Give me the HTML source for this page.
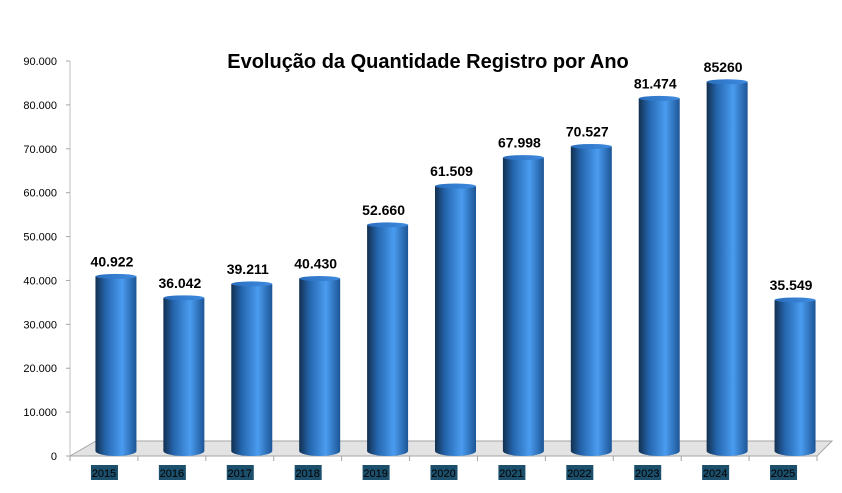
<!DOCTYPE html>
<html><head><meta charset="utf-8"><style>
body{margin:0;background:#fff;}
svg{display:block;font-family:"Liberation Sans",sans-serif;}
</style></head><body>
<svg id="c" width="842" height="493" viewBox="0 0 842 493">
<defs>
<linearGradient id="cyl" x1="0" x2="1" y1="0" y2="0">
<stop offset="0" stop-color="#13304f"/>
<stop offset="0.25" stop-color="#2465ad"/>
<stop offset="0.65" stop-color="#4a9cf0"/>
<stop offset="1" stop-color="#1d5596"/>
</linearGradient>
<linearGradient id="cyltop" x1="0" x2="1">
<stop offset="0" stop-color="#2a6fbf"/>
<stop offset="1" stop-color="#3f8be0"/>
</linearGradient>
</defs>
<text x="428" y="68" text-anchor="middle" font-size="20" font-weight="bold" fill="#000">Evolução da Quantidade Registro por Ano</text>
<g id="axes"></g>
<g id="bars"></g>
</svg>
<script>
const categories=["2015","2016","2017","2018","2019","2020","2021","2022","2023","2024","2025"];
const values=[40922,36042,39211,40430,52660,61509,67998,70527,81474,85260,35549];
const valueLabels=["40.922","36.042","39.211","40.430","52.660","61.509","67.998","70.527","81.474","85260","35.549"];
const yTicks=[0,10000,20000,30000,40000,50000,60000,70000,80000,90000];
const yTickLabels=["0","10.000","20.000","30.000","40.000","50.000","60.000","70.000","80.000","90.000"];
const NS="http://www.w3.org/2000/svg";
const x0=70,x1=817,y0=456,yTop=61,ymax=90000;
const slot=(x1-x0)/categories.length;
const y=v=>y0-(v/ymax)*(y0-yTop);
function mk(t,a,p){const e=document.createElementNS(NS,t);for(const k in a)e.setAttribute(k,a[k]);p.appendChild(e);return e;}
const ax=document.getElementById('axes'),bg=document.getElementById('bars');
// floor
const floor=mk('polygon',{points:`${x0},${y0} ${x1},${y0} ${x1+15},${y0-15} ${x0+26},${y0-15}`,fill:'#e3e3e3',stroke:'#a6a6a6','stroke-width':1},ax);


mk('line',{x1:x0,y1:y0,x2:x0,y2:yTop,stroke:'#bfbfbf'},ax);
yTicks.forEach((t,i)=>{
 const ty=y(t);
 mk('line',{x1:x0-4,y1:ty,x2:x0,y2:ty,stroke:'#a6a6a6'},ax);
 const tx=mk('text',{x:57,y:ty+4,'text-anchor':'end','font-size':11,fill:'#000'},ax);
 tx.textContent=yTickLabels[i];
 
 
});
mk('line',{x1:x0,y1:y0,x2:x1,y2:y0,stroke:'#a6a6a6'},ax);
for(let i=0;i<=categories.length;i++){mk('line',{x1:x0+i*slot,y1:y0,x2:x0+i*slot,y2:y0+5,stroke:'#a6a6a6'},ax);}
categories.forEach((c,i)=>{
 const cx=x0+slot*(i+0.5);
 const bx=cx+12,w=41,l=bx-w/2,bb=451,tt=y(values[i]);
 const g=mk('g',{},bg);
 
 
 mk('path',{d:`M${l},${tt} L${l},${bb} A${w/2},5 0 0 0 ${l+w},${bb} L${l+w},${tt} Z`,fill:'url(#cyl)'},g);
 mk('ellipse',{cx:bx,cy:tt,rx:w/2,ry:2.5,fill:'url(#cyltop)'},g);
 const vl=mk('text',{x:bx-4,y:tt-10,'text-anchor':'middle','font-size':14,'font-weight':'bold',fill:'#000'},bg);
 vl.textContent=valueLabels[i];
 
 
 mk('rect',{x:cx-13,y:465,width:27,height:15,fill:'#1b4f6b'},ax);
 const cl=mk('text',{x:cx,y:477,'text-anchor':'middle','font-size':11,fill:'#000'},ax);
 cl.textContent=c;
 
 
});
</script>
</body></html>
